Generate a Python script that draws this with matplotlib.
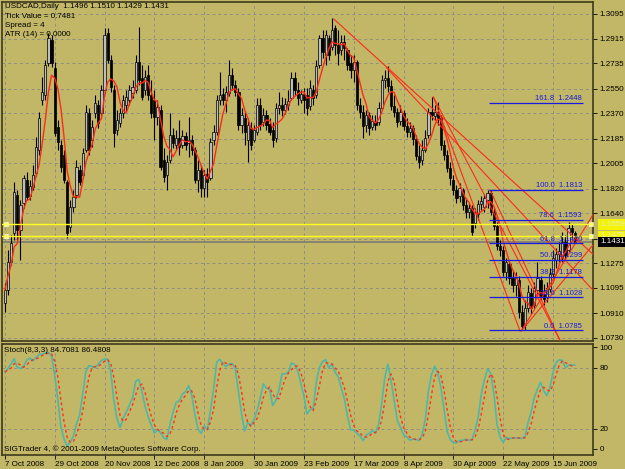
#Import the required packages
import pandas as pd
import matplotlib
matplotlib.use("Agg")
import matplotlib.pyplot as plt
from matplotlib import transforms

#USDCAD daily bars (7 Oct 2008 .. 23 Jun 2009)
opens = [
    1.0985, 1.1080, 1.1284, 1.1496, 1.1773, 1.1518, 1.1715, 1.1883, 1.1766, 1.1832,
    1.1934, 1.2102, 1.2467, 1.2503, 1.2737, 1.2905, 1.2701, 1.2270, 1.2138, 1.2065,
    1.1868, 1.1540, 1.1686, 1.1773, 1.1956, 1.1919, 1.2102, 1.2372, 1.2175, 1.2372,
    1.2430, 1.2372, 1.2540, 1.2956, 1.2759, 1.2540, 1.2248, 1.2299, 1.2372, 1.2430,
    1.2467, 1.2518, 1.2540, 1.2744, 1.2628, 1.2540, 1.2649, 1.2503, 1.2467, 1.2343,
    1.2394, 1.2029, 1.1919, 1.2029, 1.2211, 1.2138, 1.2190, 1.2138, 1.2204, 1.2153,
    1.2175, 1.2102, 1.1883, 1.1956, 1.1825, 1.1927, 1.1898, 1.2175, 1.2233, 1.2467,
    1.2511, 1.2467, 1.2518, 1.2649, 1.2576, 1.2525, 1.2284, 1.2336, 1.2175, 1.2263,
    1.2175, 1.2233, 1.2430, 1.2306, 1.2357, 1.2292, 1.2248, 1.2190, 1.2409, 1.2430,
    1.2394, 1.2430, 1.2482, 1.2628, 1.2540, 1.2467, 1.2511, 1.2503, 1.2423, 1.2540,
    1.2503, 1.2722, 1.2920, 1.2795, 1.2920, 1.2854, 1.2993, 1.2868, 1.2832, 1.2890,
    1.2832, 1.2737, 1.2686, 1.2744, 1.2430, 1.2379, 1.2284, 1.2357, 1.2270, 1.2306,
    1.2306, 1.2409, 1.2613, 1.2628, 1.2569, 1.2423, 1.2379, 1.2314, 1.2372, 1.2277,
    1.2233, 1.2263, 1.2182, 1.2058, 1.2029, 1.2102, 1.2211, 1.2379, 1.2350, 1.2379,
    1.2336, 1.2138, 1.2065, 1.1971, 1.1883, 1.1810, 1.1766, 1.1810, 1.1700, 1.1649,
    1.1679, 1.1569, 1.1635, 1.1708, 1.1686, 1.1737, 1.1788, 1.1649, 1.1547, 1.1401,
    1.1372, 1.1211, 1.1270, 1.1168, 1.1116, 1.1153, 1.0919, 1.0824, 1.0949, 1.1058,
    1.0970, 1.1080, 1.1153, 1.1051, 1.1029, 1.1087, 1.1197, 1.1299, 1.1343, 1.1314,
    1.1430, 1.1372, 1.1533, 1.1496]
highs = [
    1.1131, 1.1372, 1.1481, 1.1868, 1.1810, 1.1737, 1.1919, 1.1941, 1.1883, 1.1992,
    1.2197, 1.2379, 1.2635, 1.2759, 1.2956, 1.2941, 1.2744, 1.2321, 1.2175, 1.2102,
    1.1883, 1.1737, 1.1810, 1.2029, 1.1992, 1.2117, 1.2430, 1.2409, 1.2321, 1.2503,
    1.2467, 1.2576, 1.2993, 1.2993, 1.2795, 1.2576, 1.2394, 1.2409, 1.2503, 1.2540,
    1.2576, 1.2613, 1.2795, 1.3000, 1.2722, 1.2686, 1.2722, 1.2613, 1.2540, 1.2467,
    1.2430, 1.2117, 1.2065, 1.2372, 1.2263, 1.2248, 1.2321, 1.2248, 1.2233, 1.2343,
    1.2211, 1.2124, 1.2029, 1.1992, 1.1956, 1.1971, 1.2190, 1.2284, 1.2503, 1.2671,
    1.2555, 1.2569, 1.2759, 1.2701, 1.2613, 1.2555, 1.2409, 1.2379, 1.2336, 1.2306,
    1.2284, 1.2482, 1.2482, 1.2409, 1.2394, 1.2336, 1.2306, 1.2445, 1.2525, 1.2489,
    1.2482, 1.2540, 1.2671, 1.2671, 1.2598, 1.2540, 1.2555, 1.2555, 1.2613, 1.2576,
    1.2759, 1.2941, 1.2978, 1.2978, 1.2941, 1.3066, 1.3014, 1.2978, 1.2941, 1.2941,
    1.2847, 1.2795, 1.2795, 1.2759, 1.2482, 1.2430, 1.2394, 1.2379, 1.2357, 1.2357,
    1.2452, 1.2649, 1.2686, 1.2715, 1.2613, 1.2503, 1.2409, 1.2430, 1.2394, 1.2336,
    1.2306, 1.2284, 1.2211, 1.2138, 1.2175, 1.2248, 1.2409, 1.2489, 1.2430, 1.2452,
    1.2357, 1.2175, 1.2102, 1.2014, 1.1919, 1.1846, 1.1861, 1.1825, 1.1752, 1.1715,
    1.1700, 1.1679, 1.1737, 1.1766, 1.1781, 1.1813, 1.1810, 1.1679, 1.1576, 1.1445,
    1.1401, 1.1314, 1.1299, 1.1226, 1.1211, 1.1182, 1.0970, 1.1007, 1.1116, 1.1095,
    1.1138, 1.1284, 1.1182, 1.1124, 1.1138, 1.1241, 1.1372, 1.1387, 1.1430, 1.1503,
    1.1481, 1.1576, 1.1562, 1.1510]
lows = [
    1.0919, 1.1043, 1.1262, 1.1445, 1.1445, 1.1299, 1.1679, 1.1737, 1.1737, 1.1810,
    1.1912, 1.2065, 1.2430, 1.2467, 1.2715, 1.2708, 1.2204, 1.2102, 1.1941, 1.1861,
    1.1460, 1.1503, 1.1649, 1.1752, 1.1846, 1.1898, 1.2087, 1.2065, 1.2124, 1.2336,
    1.2263, 1.2336, 1.2518, 1.2737, 1.2525, 1.2124, 1.2211, 1.2270, 1.2336, 1.2379,
    1.2430, 1.2482, 1.2518, 1.2576, 1.2467, 1.2503, 1.2467, 1.2336, 1.2175, 1.2284,
    1.1956, 1.1868, 1.1810, 1.2007, 1.2117, 1.2102, 1.2065, 1.2117, 1.2102, 1.2051,
    1.2065, 1.1861, 1.1795, 1.1759, 1.1759, 1.1759, 1.1883, 1.2138, 1.2211, 1.2430,
    1.2430, 1.2379, 1.2496, 1.2540, 1.2496, 1.2248, 1.2226, 1.2138, 1.2014, 1.2102,
    1.2160, 1.2211, 1.2248, 1.2277, 1.2248, 1.2211, 1.2124, 1.2160, 1.2365, 1.2350,
    1.2365, 1.2394, 1.2467, 1.2503, 1.2430, 1.2445, 1.2372, 1.2357, 1.2394, 1.2430,
    1.2482, 1.2701, 1.2774, 1.2722, 1.2759, 1.2832, 1.2795, 1.2722, 1.2795, 1.2759,
    1.2686, 1.2628, 1.2598, 1.2394, 1.2336, 1.2190, 1.2233, 1.2211, 1.2248, 1.2248,
    1.2284, 1.2394, 1.2555, 1.2525, 1.2394, 1.2343, 1.2270, 1.2284, 1.2248, 1.2197,
    1.2197, 1.2138, 1.2029, 1.1971, 1.1992, 1.2087, 1.2190, 1.2321, 1.2321, 1.2284,
    1.2102, 1.2029, 1.1941, 1.1846, 1.1773, 1.1715, 1.1722, 1.1664, 1.1606, 1.1606,
    1.1474, 1.1533, 1.1591, 1.1664, 1.1649, 1.1679, 1.1627, 1.1518, 1.1372, 1.1328,
    1.1182, 1.1153, 1.1124, 1.1065, 1.1036, 1.0876, 1.0785, 1.0788, 1.0919, 1.0905,
    1.0949, 1.1051, 1.1007, 1.0970, 1.0992, 1.1065, 1.1168, 1.1241, 1.1284, 1.1284,
    1.1299, 1.1357, 1.1460, 1.1429]
closes = [
    1.1080, 1.1284, 1.1423, 1.1795, 1.1518, 1.1700, 1.1898, 1.1759, 1.1839, 1.1919,
    1.2124, 1.2336, 1.2525, 1.2722, 1.2920, 1.2737, 1.2226, 1.2160, 1.1978, 1.1883,
    1.1496, 1.1686, 1.1759, 1.1978, 1.1868, 1.2080, 1.2379, 1.2102, 1.2270, 1.2445,
    1.2299, 1.2540, 1.2941, 1.2759, 1.2562, 1.2226, 1.2321, 1.2372, 1.2467, 1.2489,
    1.2540, 1.2562, 1.2744, 1.2613, 1.2489, 1.2635, 1.2503, 1.2372, 1.2343, 1.2416,
    1.1978, 1.1905, 1.2014, 1.2211, 1.2153, 1.2190, 1.2124, 1.2204, 1.2138, 1.2175,
    1.2102, 1.1883, 1.1956, 1.1825, 1.1919, 1.1868, 1.2160, 1.2233, 1.2467, 1.2503,
    1.2467, 1.2525, 1.2649, 1.2576, 1.2525, 1.2284, 1.2357, 1.2233, 1.2284, 1.2138,
    1.2248, 1.2430, 1.2284, 1.2357, 1.2284, 1.2233, 1.2175, 1.2409, 1.2430, 1.2394,
    1.2438, 1.2460, 1.2628, 1.2540, 1.2482, 1.2511, 1.2467, 1.2409, 1.2555, 1.2482,
    1.2715, 1.2920, 1.2817, 1.2941, 1.2795, 1.2978, 1.2868, 1.2810, 1.2890, 1.2847,
    1.2722, 1.2686, 1.2744, 1.2430, 1.2379, 1.2277, 1.2357, 1.2263, 1.2314, 1.2284,
    1.2409, 1.2613, 1.2628, 1.2569, 1.2423, 1.2379, 1.2306, 1.2379, 1.2277, 1.2233,
    1.2263, 1.2182, 1.2058, 1.2014, 1.2102, 1.2190, 1.2379, 1.2357, 1.2379, 1.2336,
    1.2138, 1.2065, 1.1971, 1.1898, 1.1810, 1.1752, 1.1825, 1.1700, 1.1649, 1.1679,
    1.1503, 1.1649, 1.1708, 1.1730, 1.1752, 1.1788, 1.1649, 1.1547, 1.1401, 1.1372,
    1.1211, 1.1284, 1.1168, 1.1116, 1.1168, 1.0919, 1.0817, 1.0949, 1.1065, 1.0949,
    1.1095, 1.1168, 1.1036, 1.1014, 1.1095, 1.1197, 1.1314, 1.1343, 1.1365, 1.1430,
    1.1335, 1.1533, 1.1503, 1.1431]

#Axis labels
date_labels = ["7 Oct 2008", "29 Oct 2008", "20 Nov 2008", "12 Dec 2008", "8 Jan 2009",
               "30 Jan 2009", "23 Feb 2009", "17 Mar 2009", "8 Apr 2009", "30 Apr 2009",
               "22 May 2009", "15 Jun 2009"]
price_ticks = [1.3095, 1.2915, 1.2735, 1.2550, 1.2370, 1.2185, 1.2005, 1.1820,
               1.1640, 1.1455, 1.1275, 1.1095, 1.0910, 1.0730]
stoch_ticks = [0, 20, 80, 100]

#Fibonacci retracement drawn from the May high to the June low
fib_levels = [0.0, 23.6, 38.2, 50.0, 61.8, 78.6, 100.0, 161.8]
fib_low = 1.0785
fib_high = 1.1813
fib_start_bar = 155

#Horizontal lines placed by the user
user_lines = [1.1559, 1.1475]

#Hand drawn trend lines: (bar, price) -> (bar, price)
trend_lines = [
    ((105.6, 1.3058), (188.8, 1.1343)),
    ((122.6, 1.2701), (188.8, 1.1080)),
    ((137.6, 1.2489), (165.4, 1.0781)),
    ((137.6, 1.2489), (178.2, 1.0715)),
    ((155.8, 1.1810), (178.2, 1.0715)),
    ((165.8, 1.0781), (188.8, 1.1408)),
    ((165.8, 1.0781), (188.8, 1.1628)),
]

#Build a frame and the indicators
df = pd.DataFrame({"open": opens, "high": highs, "low": lows, "close": closes})
df["ma"] = df["close"].rolling(5, min_periods=1).mean()
ll = df["low"].rolling(8, min_periods=1).min()
hh = df["high"].rolling(8, min_periods=1).max()
df["k"] = 100 * (df["close"] - ll).rolling(3, min_periods=1).sum() / (hh - ll).rolling(3, min_periods=1).sum()
df["d"] = df["k"].rolling(3, min_periods=1).mean()
bars = range(len(df))
label_bars = list(range(0, len(df), 16))[:len(date_labels)]

bg = "#c2b766"
grid_col = "#8e8e86"
frame_col = "#3e3a1c"
plt.rcParams["font.family"] = ["Liberation Sans", "DejaVu Sans"]

fig = plt.figure(figsize=(6.25, 4.69), dpi=100, facecolor=bg)
ax = fig.add_axes([0.003, 0.2729, 0.9456, 0.7228], facecolor=bg)
ax2 = fig.add_axes([0.003, 0.0299, 0.9456, 0.2367], facecolor=bg)

#Candles
for i, row in df.iterrows():
    ax.vlines(i, row["low"], row["high"], color="black", lw=0.8, zorder=3)
    bull = row["close"] >= row["open"]
    bottom = min(row["open"], row["close"])
    height = max(abs(row["close"] - row["open"]), 0.0004)
    ax.bar(i, height, bottom=bottom, width=0.72, color="#bdbdbd" if bull else "black",
           edgecolor="black", linewidth=0.5, zorder=4)

#Moving average
ax.plot(bars, df["ma"], color="#ff2a1a", lw=1.0, zorder=5)

#Trend lines
for (x0, y0), (x1, y1) in trend_lines:
    ax.plot([x0, x1], [y0, y1], color="#ff2a1a", lw=0.8, zorder=5)

#Fibonacci levels
for lvl in fib_levels:
    price = fib_low + (fib_high - fib_low) * lvl / 100
    ax.hlines(price, fib_start_bar + 0.5, 185.5, color="#1a1ae0", lw=0.9, zorder=6)
    ax.text(185.3, price + 0.0004, f"{lvl:.1f}  {price:.4f}", color="#1a1ae0",
            fontsize=5.5, ha="right", va="bottom", zorder=7)

#User horizontal lines and the bid line
for price in user_lines:
    ax.axhline(price, color="#ffff20", lw=1.0, zorder=6)
    ax.plot([0.3, 188.3], [price, price], ls="none", marker="s", ms=2.5,
            mfc="#ffff60", mec="white", mew=0.4, zorder=7, clip_on=False)
ax.axhline(closes[-1], color="#7c7c74", lw=1.2, zorder=2)

#Price axis
ax.set_xlim(-0.96, 188.8)
ax.set_ylim(1.0708, 1.3182)
ax.yaxis.tick_right()
ax.set_yticks(price_ticks)
ax.set_yticklabels([f"{p:.4f}" if p != 1.1455 else "" for p in price_ticks])
ax.set_xticks(label_bars)
ax.tick_params(axis="x", length=0, labelbottom=False)
ax.tick_params(axis="y", length=3, width=0.6, labelsize=5.8, pad=2, colors="black")
ax.grid(True, color=grid_col, ls=(0, (3, 3)), lw=0.7)
for s in ax.spines.values():
    s.set_color(frame_col)
    s.set_linewidth(1.2)

#Price boxes on the right edge
trans = transforms.blended_transform_factory(ax.transAxes, ax.transData)
for price in user_lines:
    ax.text(1.012, price, f"{price:.4f}", transform=trans, fontsize=5.8, color="#e8e8d0",
            va="center", ha="left", clip_on=False, zorder=10,
            bbox=dict(boxstyle="square,pad=0.2", fc="#f4f400", ec="none"))
ax.text(1.012, closes[-1], f"{closes[-1]:.4f}", transform=trans, fontsize=5.8, color="white",
        va="center", ha="left", clip_on=False, zorder=10,
        bbox=dict(boxstyle="square,pad=0.2", fc="black", ec="none"))

#Stochastic panel
ax2.plot(bars, df["k"], color="#4fb7a6", lw=1.2, zorder=4)
ax2.plot(bars, df["d"], color="#ff3020", lw=1.0, ls=(0, (2, 2)), zorder=5)
ax2.axhline(20, color=grid_col, ls=(0, (3, 3)), lw=0.7)
ax2.axhline(80, color=grid_col, ls=(0, (3, 3)), lw=0.7)
ax2.set_xlim(-0.96, 188.8)
ax2.set_ylim(-5.9, 103.4)
ax2.yaxis.tick_right()
ax2.set_yticks(stoch_ticks)
ax2.set_xticks(label_bars)
ax2.set_xticklabels(date_labels, ha="left")
ax2.tick_params(axis="y", length=3, width=0.6, labelsize=5.8, pad=2)
ax2.tick_params(axis="x", length=3, width=0.6, labelsize=5.8, pad=1)
ax2.grid(True, axis="x", color=grid_col, ls=(0, (3, 3)), lw=0.7)
for s in ax2.spines.values():
    s.set_color(frame_col)
    s.set_linewidth(1.2)

#Header texts
info = ["USDCAD,Daily  1.1496 1.1510 1.1429 1.1431", "Tick Value = 0.7481",
        "Spread = 4", "ATR (14) = 0.0000"]
for n, line in enumerate(info):
    fig.text(5 / 625, 1 - (7 + 9.2 * n) / 469, line, fontsize=5.8, va="center", ha="left")
fig.text(4 / 625, 1 - 350 / 469, "Stoch(8,3,3) 84.7081 86.4808", fontsize=5.8, va="center")
fig.text(4 / 625, 1 - 449 / 469, "SIGTrader 4, \u00a9 2001-2009 MetaQuotes Software Corp.",
         fontsize=5.8, va="center")

plt.savefig("out.png", dpi=100, facecolor=bg)
